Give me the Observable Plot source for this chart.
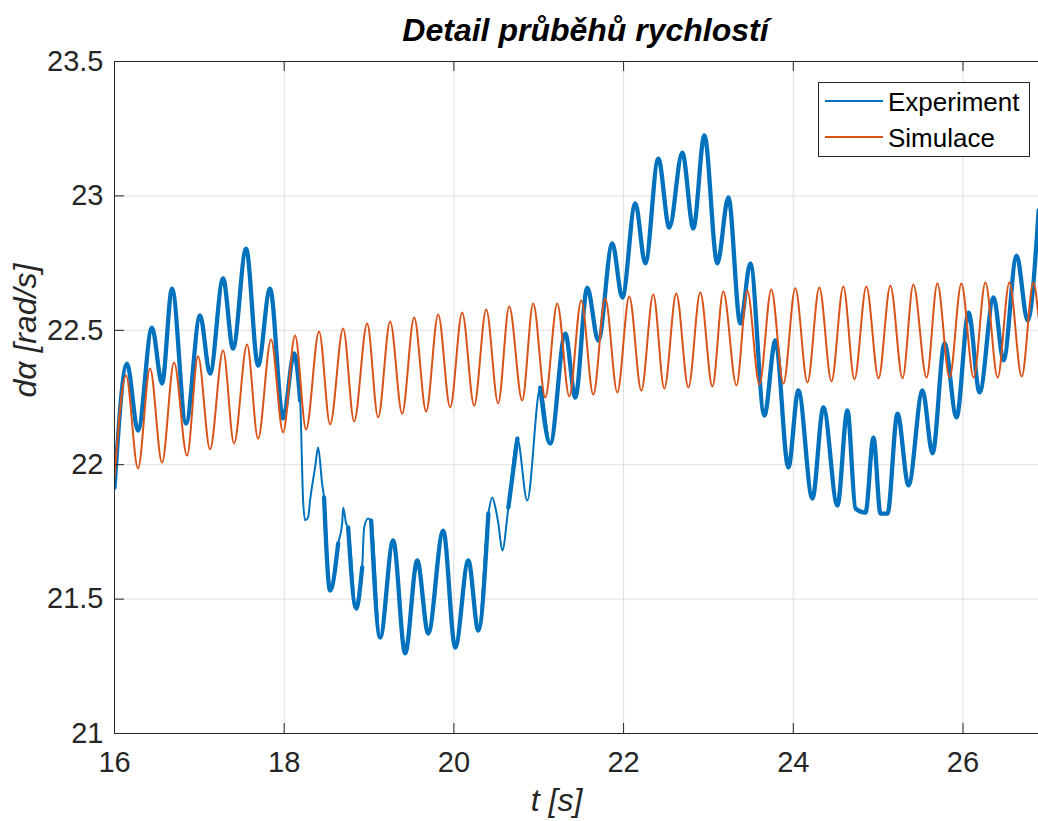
<!DOCTYPE html>
<html>
<head>
<meta charset="utf-8">
<script src="https://cdn.jsdelivr.net/npm/d3@7"></script>
<script src="https://cdn.jsdelivr.net/npm/@observablehq/plot@0.6"></script>
<style>
  html, body { margin: 0; padding: 0; background: #fff; }
  #wrap { position: relative; width: 1038px; height: 821px; overflow: hidden; }
  #legend { position: absolute; left: 818px; top: 82px; }
</style>
</head>
<body>
<div id="wrap"></div>
<script>
// ---- Data ----
const chartTitle = "Detail průběhů rychlostí";
const xLabel = "t [s]";
const yLabel = "dα [rad/s]";
const seriesNames = ["Experiment", "Simulace"];
const seriesColors = ["#0072BD", "#D95319"];

const xTicks = [16, 18, 20, 22, 24, 26];
const yTicks = [21, 21.5, 22, 22.5, 23, 23.5];
const xDomain = [16, 26.89];
const yDomain = [21, 23.5];

// Simulace: extrema (peaks / troughs) of the simulated oscillation
const simT = [
  16.000,
  16.136, 16.277, 16.419, 16.560, 16.702, 16.855, 16.985, 17.126,
  17.280, 17.409, 17.562, 17.692, 17.845, 17.987, 18.128, 18.258,
  18.411, 18.541, 18.695, 18.824, 18.978, 19.107, 19.249, 19.390,
  19.532, 19.673, 19.815, 19.956, 20.098, 20.239, 20.381, 20.522,
  20.652, 20.805, 20.935, 21.077, 21.218, 21.360, 21.501, 21.643,
  21.784, 21.926, 22.067, 22.209, 22.350, 22.480, 22.621, 22.764,
  22.904, 23.047, 23.175, 23.330, 23.458, 23.601, 23.741, 23.884,
  24.024, 24.167, 24.307, 24.450, 24.590, 24.721, 24.861, 25.005,
  25.144, 25.288, 25.415, 25.571, 25.698, 25.842, 25.981, 26.126,
  26.264, 26.409, 26.547, 26.692, 26.830,
  26.890
];
const simV = [
  21.952,
  22.332, 21.986, 22.358, 22.008, 22.380, 22.034, 22.403, 22.057,
  22.425, 22.079, 22.447, 22.097, 22.466, 22.120, 22.481, 22.131,
  22.496, 22.150, 22.507, 22.161, 22.525, 22.176, 22.533, 22.190,
  22.548, 22.198, 22.559, 22.213, 22.566, 22.220, 22.577, 22.228,
  22.589, 22.239, 22.600, 22.250, 22.600, 22.254, 22.611, 22.261,
  22.618, 22.269, 22.626, 22.276, 22.633, 22.283, 22.637, 22.287,
  22.641, 22.291, 22.644, 22.295, 22.648, 22.298, 22.652, 22.302,
  22.656, 22.306, 22.659, 22.310, 22.663, 22.317, 22.663, 22.321,
  22.667, 22.321, 22.670, 22.324, 22.674, 22.324, 22.674, 22.324,
  22.678, 22.324, 22.678, 22.328, 22.678,
  22.550
];

// Experiment: traced points of the measured (noisy) signal
const expT = [
  16.000, 16.147, 16.277, 16.442, 16.560, 16.678, 16.843, 17.008, 17.126, 17.280,
  17.397, 17.551, 17.692, 17.833, 17.987, 18.117, 18.188, 18.223, 18.247, 18.282,
  18.305, 18.364, 18.400, 18.447, 18.470, 18.541, 18.636, 18.683, 18.695, 18.730,
  18.754, 18.848, 18.919, 18.942, 18.989, 19.025, 19.131, 19.284, 19.426, 19.568,
  19.697, 19.874, 20.016, 20.170, 20.288, 20.406, 20.453, 20.489, 20.524, 20.571,
  20.642, 20.748, 20.864, 21.018, 21.136, 21.313, 21.431, 21.572, 21.702, 21.867,
  21.985, 22.138, 22.256, 22.409, 22.539, 22.692, 22.822, 22.952, 23.105, 23.235,
  23.376, 23.494, 23.659, 23.789, 23.942, 24.060, 24.225, 24.355, 24.520, 24.638,
  24.733, 24.851, 24.945, 25.028, 25.110, 25.228, 25.358, 25.523, 25.641, 25.783,
  25.924, 26.066, 26.196, 26.361, 26.478, 26.632, 26.762, 26.892
];
const expV = [
  21.915, 22.376, 22.127, 22.510, 22.302, 22.655, 22.153, 22.555, 22.339, 22.693,
  22.432, 22.804, 22.369, 22.655, 22.172, 22.414, 22.239, 21.867, 21.793, 21.804,
  21.867, 21.990, 22.064, 21.930, 21.878, 21.532, 21.707, 21.781, 21.841, 21.781,
  21.766, 21.465, 21.618, 21.766, 21.800, 21.792, 21.357, 21.718, 21.298, 21.644,
  21.372, 21.755, 21.320, 21.644, 21.383, 21.818, 21.878, 21.841, 21.781, 21.681,
  21.841, 22.097, 21.867, 22.287, 22.079, 22.488, 22.250, 22.659, 22.462, 22.823,
  22.622, 22.972, 22.749, 23.139, 22.882, 23.161, 22.879, 23.225, 22.749, 22.994,
  22.525, 22.749, 22.183, 22.462, 21.990, 22.276, 21.874, 22.213, 21.848, 22.202,
  21.837, 21.822, 22.101, 21.818, 21.818, 22.190, 21.923, 22.276, 22.042, 22.451,
  22.176, 22.566, 22.269, 22.622, 22.388, 22.778, 22.536, 22.946
];
// time spans where the measured trace is clean (thin) instead of a noisy band
const thinSpans = [[18.20, 18.45], [18.66, 18.74], [18.93, 19.00], [20.44, 20.58], [20.85, 20.87]];

// ---- Build tables ----
const sim = simT.map((t, i) => ({t, v: simV[i]}));
const exp = expT.map((t, i) => ({t, v: expV[i]}));
const isThin = t => thinSpans.some(([a, b]) => t >= a && t <= b);

const FONT = '"Liberation Sans", Arial, Helvetica, sans-serif';
const INK = "#262626";
const GRID = "#dfdfdf";

const W = 1038, H = 821, ML = 114, MR = 0, MT = 61, MB = 88;
const frameW = W - ML - MR, frameH = H - MT - MB;
const tickLen = 10;

const chart = Plot.plot({
  width: W, height: H,
  marginLeft: ML, marginRight: MR, marginTop: MT, marginBottom: MB,
  style: {fontFamily: FONT, background: "white", color: INK, overflow: "visible"},
  x: {domain: xDomain},
  y: {domain: yDomain},
  marks: [
    // grid
    Plot.ruleX(xTicks, {x: d => d, stroke: GRID, strokeWidth: 1}),
    Plot.ruleY(yTicks, {y: d => d, stroke: GRID, strokeWidth: 1}),
    // data
    Plot.line(exp, {x: "t", y: "v", stroke: seriesColors[0], strokeWidth: 2, curve: "monotone-x", clip: true}),
    Plot.line(exp, {x: "t", y: d => isThin(d.t) ? NaN : d.v, stroke: seriesColors[0], strokeWidth: 4.3, curve: "monotone-x", clip: true}),
    Plot.line(sim, {x: "t", y: "v", stroke: seriesColors[1], strokeWidth: 2, curve: "monotone-x", clip: true}),
    // box lines
    Plot.ruleY([yDomain[0]], {y: d => d, stroke: INK, strokeWidth: 1}),
    Plot.ruleY([yDomain[1]], {y: d => d, stroke: INK, strokeWidth: 1}),
    Plot.ruleX([xDomain[0]], {x: d => d, stroke: INK, strokeWidth: 1}),
    // inward ticks
    Plot.tickX(xTicks, {x: d => d, stroke: INK, insetTop: frameH - tickLen}),
    Plot.tickX(xTicks, {x: d => d, stroke: INK, insetBottom: frameH - tickLen}),
    Plot.tickY(yTicks, {y: d => d, stroke: INK, insetRight: frameW - tickLen}),
    // tick labels
    Plot.axisX({ticks: xTicks, tickSize: 0, tickPadding: 18, fontSize: 29, tickFormat: d => String(d), label: null, fill: INK}),
    Plot.axisY({ticks: yTicks, tickSize: 0, tickPadding: 11, fontSize: 29, tickFormat: d => String(d), label: null, fill: INK}),
    // title & axis labels
    Plot.text([chartTitle], {frameAnchor: "top", dx: 9, dy: -31, lineAnchor: "middle", fontSize: 32, fontWeight: "bold", fontStyle: "italic", fill: "#000"}),
    Plot.text([xLabel], {frameAnchor: "bottom", dx: -20, dy: 67, lineAnchor: "middle", fontSize: 32, fontStyle: "italic", fill: INK}),
    Plot.text([yLabel], {frameAnchor: "left", dx: -89, dy: 0, rotate: -90, lineAnchor: "middle", fontSize: 32, fontStyle: "italic", fill: INK})
  ]
});

const wrap = document.getElementById("wrap");
wrap.appendChild(chart);

// ---- Legend (SVG overlay) ----
const lg = d3.select(wrap).append("svg")
  .attr("id", "legend")
  .attr("width", 213).attr("height", 76)
  .style("font-family", FONT);
lg.append("rect").attr("x", 0.5).attr("y", 0.5).attr("width", 211).attr("height", 74)
  .attr("fill", "#fff").attr("stroke", INK).attr("stroke-width", 1);
const rowsY = [19, 55];
seriesNames.forEach((name, i) => {
  lg.append("line").attr("x1", 7).attr("x2", 65).attr("y1", rowsY[i]).attr("y2", rowsY[i])
    .attr("stroke", seriesColors[i]).attr("stroke-width", 2);
  lg.append("text").attr("x", 70).attr("y", rowsY[i] + 10).attr("font-size", 26)
    .attr("fill", "#000").text(name);
});
</script>
</body>
</html>
